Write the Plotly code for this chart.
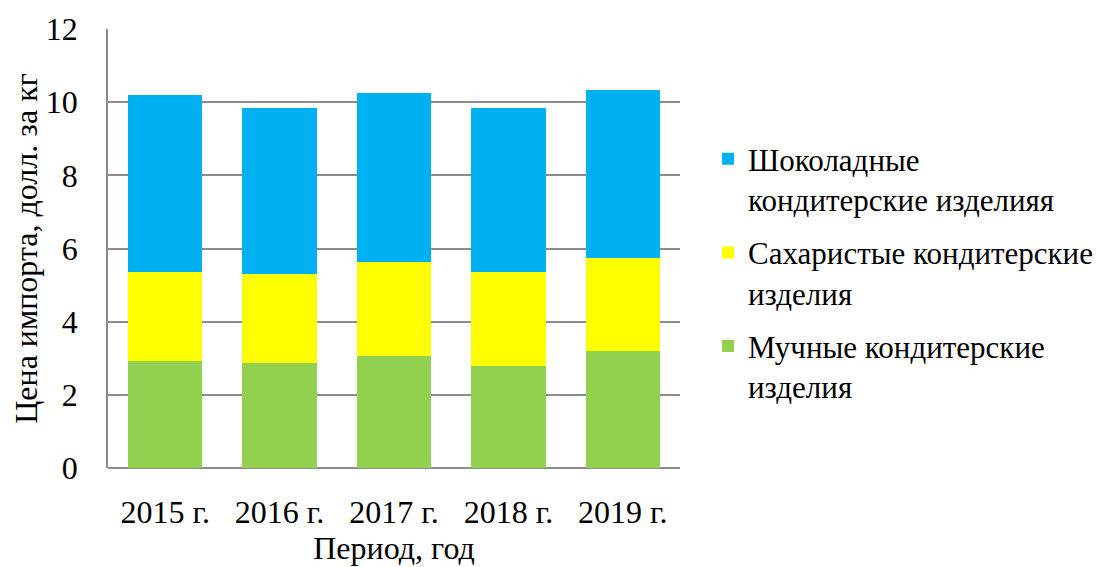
import plotly.graph_objects as go

years = ["2015 г.", "2016 г.", "2017 г.", "2018 г.", "2019 г."]
flour = [2.93, 2.88, 3.07, 2.80, 3.20]
sugar = [2.44, 2.42, 2.56, 2.55, 2.54]
choco = [4.83, 4.55, 4.62, 4.50, 4.58]

names = ["Мучные кондитерские<br>изделия",
         "Сахаристые кондитерские<br>изделия",
         "Шоколадные<br>кондитерские изделияя"]
colors = ["#92D050", "#FFFF00", "#00B0F0"]

fig = go.Figure()
for i, (vals, nm, col) in enumerate(zip([flour, sugar, choco], names, colors)):
    fig.add_trace(go.Bar(x=years, y=vals, name=nm, marker_color=col,
                         marker_line_width=0, legendgroup=f"g{i}",
                         legendrank=1000 - i))

ff = "Liberation Serif"
F = dict(family=ff, size=32, color="black")
FL = dict(family=ff, size=31, color="black")
fig.update_layout(
    barmode="stack",
    bargap=0.35,
    width=1096, height=559,
    margin=dict(l=100, r=424, t=21, b=99, autoexpand=False),
    paper_bgcolor="white", plot_bgcolor="white",
    font=F,
    legend=dict(traceorder="grouped", x=1.049, y=0.445, yanchor="middle",
                xanchor="left", font=FL, tracegroupgap=10, valign="top",
                itemwidth=30),
    xaxis=dict(title=dict(text="Период, год", standoff=6, font=F),
               tickfont=F, showline=False, ticks="", automargin=False,
               ticklabelstandoff=22),
    yaxis=dict(title=dict(text="Цена импорта, долл. за кг", standoff=18, font=F),
               range=[0, 12], dtick=2, tickfont=F, automargin=False,
               showgrid=True, gridcolor="#8c8c8c", gridwidth=1.5,
               showline=True, linecolor="#8c8c8c", linewidth=1.5,
               zeroline=True, zerolinecolor="#8c8c8c", zerolinewidth=1.5,
               ticks="", ticklabelstandoff=22),
)
fig.write_html("out.html")
